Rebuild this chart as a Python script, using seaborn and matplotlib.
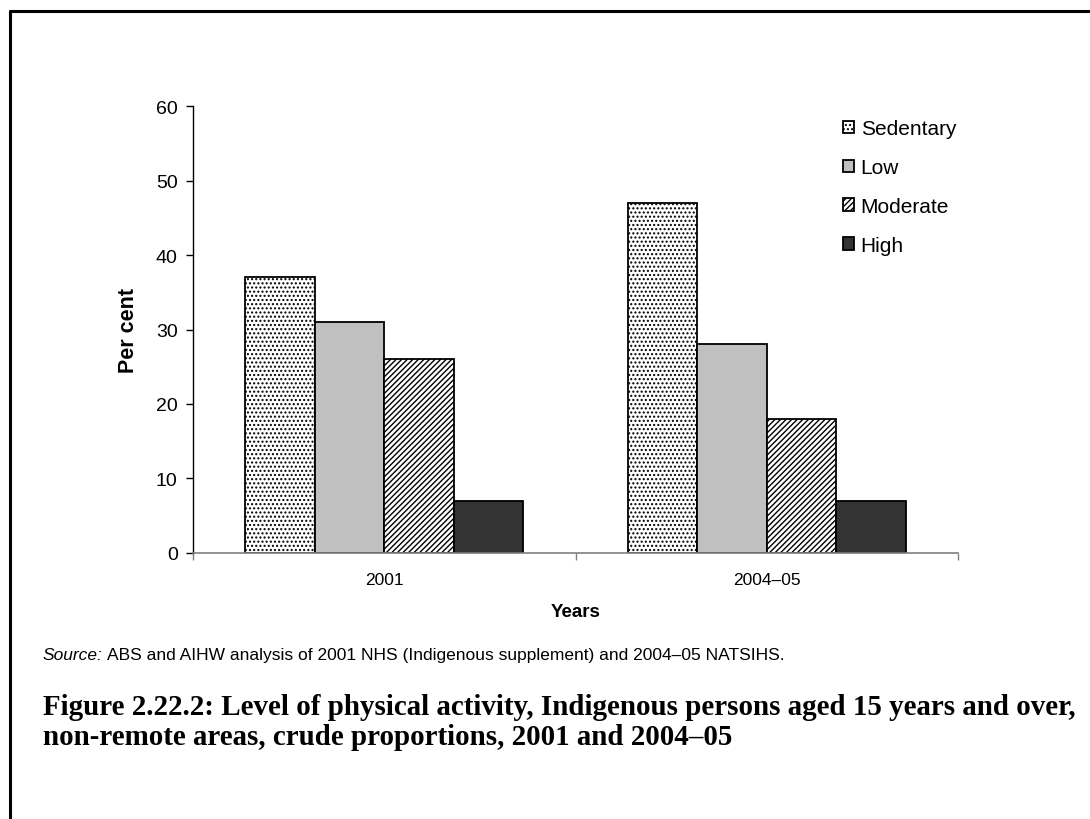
import numpy as np
import pandas as pd
import matplotlib
matplotlib.use("Agg")
import matplotlib.pyplot as plt
import seaborn as sns

# -- data --
years = ["2001", "2004\u201305"]
levels = ["Sedentary", "Low", "Moderate", "High"]
sedentary = [37, 47]
low = [31, 28]
moderate = [26, 18]
high = [7, 7]

df = pd.DataFrame({
    "year": years * 4,
    "level": np.repeat(levels, 2),
    "pct": sedentary + low + moderate + high,
})

sns.set_style("white")
plt.rcParams["font.family"] = ["Liberation Sans", "DejaVu Sans"]
plt.rcParams["text.color"] = "black"
plt.rcParams["axes.labelcolor"] = "black"
plt.rcParams["xtick.color"] = "black"
plt.rcParams["ytick.color"] = "black"
plt.rcParams["hatch.linewidth"] = 1.0

fig = plt.figure(figsize=(10.9, 8.2), dpi=100)
ax = fig.add_axes([0.177, 0.3244, 0.702, 0.5451])

sns.barplot(data=df, x="year", y="pct", hue="level", hue_order=levels,
            order=years, width=0.727, gap=0, legend=False, ax=ax,
            edgecolor="black", linewidth=1.3, saturation=1)

# bar styles per level
styles = [("white", "...."), ("#c0c0c0", None), ("white", "//////"), ("#333333", None)]
for cont, (fc, h) in zip(ax.containers, styles):
    for bar in cont:
        bar.set_facecolor(fc)
        bar.set_edgecolor("black")
        if h:
            bar.set_hatch(h)

ax.set_ylim(0, 60)
ax.set_xlim(-0.5, 1.5)
ax.set_yticks(range(0, 61, 10))
ax.tick_params(axis="y", which="major", length=5, width=1, direction="out",
               labelsize=14, left=True, pad=6)

# ticks at group boundaries, labels at centres
ax.set_xticks([-0.5, 0.5, 1.5])
ax.set_xticklabels([])
ax.set_xticks([0, 1], minor=True)
ax.set_xticklabels(years, minor=True)
ax.tick_params(axis="x", which="major", length=5, width=1, direction="out",
               bottom=True, color="#808080")
ax.tick_params(axis="x", which="minor", length=0, labelsize=12.5, pad=14)

for s in ["top", "right"]:
    ax.spines[s].set_visible(False)
ax.spines["left"].set_color("black")
ax.spines["bottom"].set_color("#808080")
ax.spines["left"].set_linewidth(1)
ax.spines["bottom"].set_linewidth(1.2)

ax.set_xlabel("Years", fontsize=13.5, fontweight="bold", labelpad=11)
ax.set_ylabel("Per cent", fontsize=15.5, fontweight="bold", labelpad=12)

ax.legend(handles=ax.containers, labels=levels, loc="upper left",
          bbox_to_anchor=(0.825, 1.012), frameon=False, fontsize=15,
          handlelength=0.55, handleheight=0.55, handletextpad=0.3,
          labelspacing=0.95)

# source note and caption
src = fig.text(0.039, 0.2, "Source:", fontsize=12.5, style="italic", va="center")
ax.annotate("ABS and AIHW analysis of 2001 NHS (Indigenous supplement) and 2004\u201305 NATSIHS.",
            xy=(1, 0.5), xycoords=src, xytext=(3, 0), textcoords="offset points",
            va="center", ha="left", fontsize=12.5, annotation_clip=False)
fig.text(0.039, 0.137,
         "Figure 2.22.2: Level of physical activity, Indigenous persons aged 15 years and over,",
         fontsize=20.9, fontweight="bold", va="center", family=["Liberation Serif"])
fig.text(0.039, 0.101,
         "non-remote areas, crude proportions, 2001 and 2004\u201305",
         fontsize=20.9, fontweight="bold", va="center", family=["Liberation Serif"])

# frame lines (top and left)
fig.add_artist(plt.Line2D([0.0092, 1.0], [0.9854, 0.9854], color="black", lw=2.2,
                          transform=fig.transFigure))
fig.add_artist(plt.Line2D([0.0092, 0.0092], [0.0, 0.9854], color="black", lw=2.2,
                          transform=fig.transFigure))

fig.savefig("out.png", dpi=100)
